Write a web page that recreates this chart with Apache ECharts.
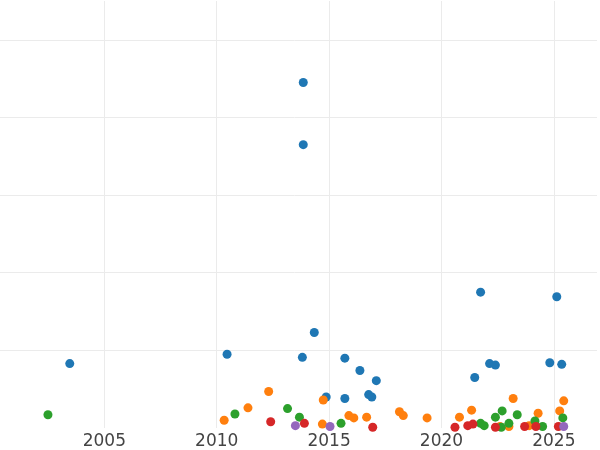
<!DOCTYPE html>
<html>
<head>
<meta charset="utf-8">
<script src="https://cdn.jsdelivr.net/npm/echarts@6/dist/echarts.min.js"></script>
<style>html,body{margin:0;padding:0;background:#fff;overflow:hidden}#chart{width:611px;height:450px;margin-left:-11px}</style>
</head>
<body>
<div id="chart"></div>
<script>
// [year, value]
var blue = [[2003.46,0.83],[2010.46,0.95],[2013.85,4.45],[2013.85,3.65],[2014.34,1.23],[2013.81,0.91],
  [2014.87,0.40],[2015.7,0.90],[2015.7,0.38],[2016.37,0.74],[2016.76,0.43],[2016.9,0.40],[2017.1,0.61],
  [2021.48,0.65],[2021.74,1.75],[2022.14,0.83],[2022.4,0.81],[2024.82,0.84],[2025.13,1.69],[2025.35,0.82]];
var orange = [[2010.33,0.10],[2011.39,0.26],[2012.31,0.47],[2014.74,0.36],[2014.7,0.05],[2015.88,0.16],
  [2016.1,0.13],[2016.67,0.14],[2018.13,0.21],[2018.3,0.16],[2019.36,0.13],[2020.8,0.14],[2021.34,0.23],
  [2023.19,0.38],[2024.3,0.19],[2025.26,0.22],[2025.44,0.35],[2022.6,0.02],[2023.0,0.02],[2023.9,0.03]];
var green = [[2002.49,0.17],[2010.81,0.18],[2013.15,0.25],[2013.68,0.14],[2015.53,0.06],[2021.74,0.06],
  [2021.9,0.03],[2022.4,0.14],[2022.7,0.22],[2023.0,0.06],[2023.37,0.17],[2024.16,0.09],[2024.5,0.02],
  [2025.4,0.13],[2022.66,0.01]];
var red = [[2012.4,0.08],[2013.9,0.06],[2016.94,0.01],[2020.6,0.01],[2021.17,0.03],[2021.4,0.05],
  [2022.4,0.01],[2023.7,0.02],[2024.2,0.02],[2025.2,0.02]];
var purple = [[2013.5,0.03],[2015.04,0.02],[2025.44,0.02]];

var groups = [blue, orange, green, red, purple];
var colors = ['#1f77b4', '#ff7f0e', '#2ca02c', '#d62728', '#9467bd'];

var series = [];
for (var i = 0; i < groups.length; i++) {
  series.push({
    type: 'scatter',
    data: groups[i],
    symbolSize: 9,
    itemStyle: { color: colors[i], opacity: 1 },
    clip: true
  });
}

var myChart = echarts.init(document.getElementById('chart'));
var option = {
  animation: false,
  grid: { left: 0, right: 0, top: 1, bottom: 22, containLabel: false },
  xAxis: {
    type: 'value',
    min: 2000,
    max: 2026.92,
    interval: 5,
    axisLine: { show: false },
    axisTick: { show: false },
    axisLabel: { color: '#444', fontSize: 17, fontFamily: 'DejaVu Sans', margin: 5,
      formatter: function (v) { return v % 5 === 0 && v > 2000 ? String(v) : ''; } },
    splitLine: { show: true, showMinLine: false, showMaxLine: false, lineStyle: { color: '#ebebeb', width: 1 } }
  },
  yAxis: {
    type: 'value',
    min: 0,
    max: 5.5,
    interval: 1,
    axisLine: { show: false },
    axisTick: { show: false },
    axisLabel: { show: false },
    splitLine: { show: true, showMinLine: false, showMaxLine: false, lineStyle: { color: '#ebebeb', width: 1 } }
  },
  series: series
};
option && myChart.setOption(option);
</script>
</body>
</html>
